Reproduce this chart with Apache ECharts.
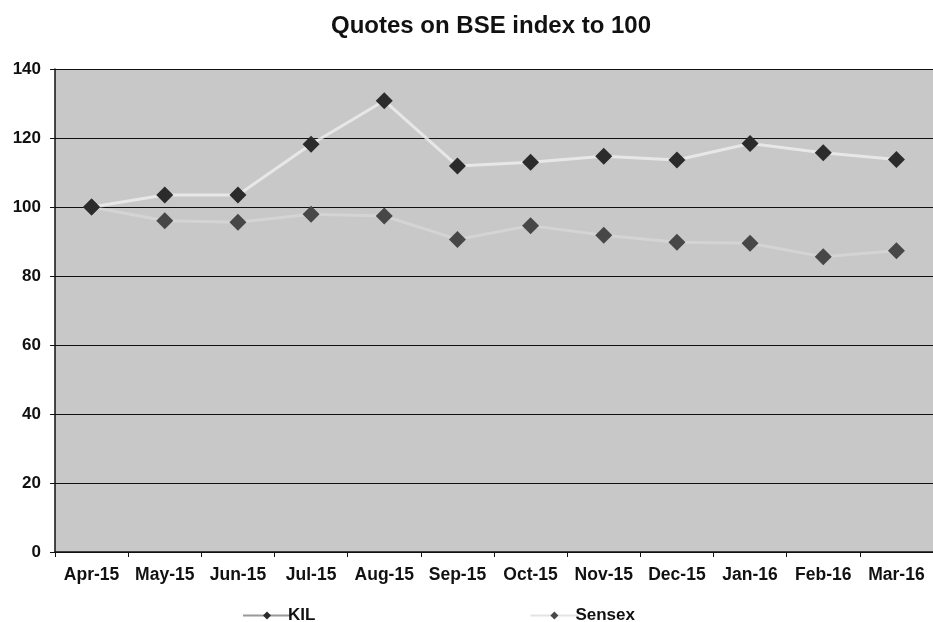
<!DOCTYPE html>
<html>
<head>
<meta charset="utf-8">
<script src="https://cdn.jsdelivr.net/npm/echarts@6/dist/echarts.min.js"></script>
<style>
  html, body { margin: 0; padding: 0; background: #fff; }
  #main { width: 933px; height: 622px; }
</style>
</head>
<body>
<div id="main"></div>
<script>
const months = ['Apr-15', 'May-15', 'Jun-15', 'Jul-15', 'Aug-15', 'Sep-15',
  'Oct-15', 'Nov-15', 'Dec-15', 'Jan-16', 'Feb-16', 'Mar-16'];
const kil = [100, 103.5, 103.5, 118.2, 130.8, 111.9, 113, 114.7, 113.6, 118.4, 115.7, 113.8];
const sensex = [100, 96, 95.6, 97.9, 97.4, 90.6, 94.6, 91.8, 89.8, 89.5, 85.6, 87.3];

const chart = echarts.init(document.getElementById('main'));
const font = 'Liberation Sans, Arial, sans-serif';

let option = {
  animation: false,
  title: {
    text: 'Quotes on BSE index to 100',
    left: 486,
    top: 9,
    textAlign: 'center',
    textStyle: { fontFamily: font, fontSize: 24, fontWeight: 'bold', color: '#111' }
  },
  legend: {
    left: 237,
    top: 602,
    itemWidth: 48,
    itemHeight: 10,
    itemGap: 214,
    textStyle: { fontFamily: font, fontSize: 17, fontWeight: 'bold', color: '#111', padding: [0, 0, 0, -8] },
    data: [
      { name: 'KIL', lineStyle: { color: '#777', width: 2 } },
      { name: 'Sensex', lineStyle: { color: '#bbb', width: 2 } }
    ]
  },
  grid: {
    left: 55,
    top: 69,
    width: 882,
    height: 483,
    show: true,
    backgroundColor: '#c8c8c8',
    borderWidth: 0
  },
  xAxis: {
    type: 'category',
    data: months,
    boundaryGap: true,
    axisLine: { lineStyle: { color: '#111', width: 1.5 } },
    axisTick: { show: true, length: 5, lineStyle: { color: '#111' } },
    axisLabel: { fontFamily: font, fontSize: 17.5, fontWeight: 'bold', color: '#111', margin: 14, interval: 0 }
  },
  yAxis: {
    type: 'value',
    min: 0,
    max: 140,
    interval: 20,
    axisLine: { show: true, lineStyle: { color: '#111', width: 1.5 } },
    axisTick: { show: true, length: 5, lineStyle: { color: '#111' } },
    axisLabel: { fontFamily: font, fontSize: 17, fontWeight: 'bold', color: '#111', margin: 14 },
    splitLine: { lineStyle: { color: '#111', width: 1 } }
  },
  series: [
    {
      name: 'KIL',
      type: 'line',
      data: kil,
      symbol: 'diamond',
      symbolSize: 17,
      itemStyle: { color: '#2b2b2b' },
      lineStyle: { color: '#f2f2f2', width: 3, opacity: 0.75 },
      z: 3
    },
    {
      name: 'Sensex',
      type: 'line',
      data: sensex,
      symbol: 'diamond',
      symbolSize: 17,
      itemStyle: { color: '#474747' },
      lineStyle: { color: '#e6e6e6', width: 3, opacity: 0.4 },
      z: 2
    }
  ]
};

chart.setOption(option);
</script>
</body>
</html>
